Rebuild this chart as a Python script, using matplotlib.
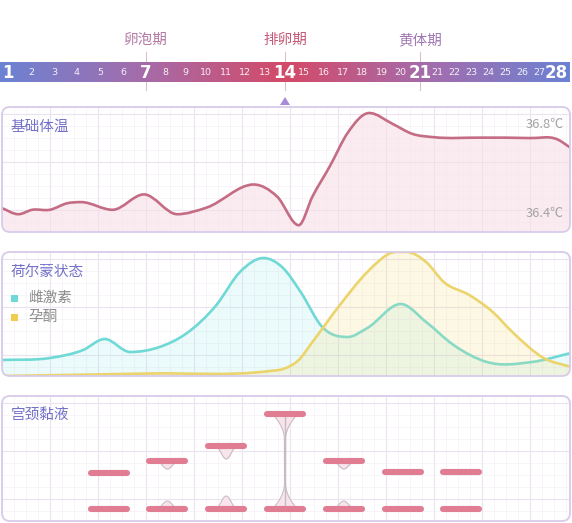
import numpy as np
import matplotlib
matplotlib.use("Agg")
import matplotlib.pyplot as plt
from matplotlib.path import Path
from matplotlib.patches import PathPatch, FancyBboxPatch, Polygon, Rectangle
from matplotlib.collections import LineCollection
from matplotlib.colors import LinearSegmentedColormap

plt.rcParams['font.family'] = ['Noto Sans CJK SC', 'DejaVu Sans']

# ---------------- data ----------------
# day strip (the source repeats "21")
day_labels = [str(d) for d in range(1, 22)] + [str(d) for d in range(21, 29)]
bold_idx = [0, 6, 13, 20, 28]
phase_names = ['卵泡期', '排卵期', '黄体期']
phase_days = [7, 14, 21]

# basal body temperature (day, degC)
temp_day = [-0.5, 0.4, 1.1, 2.0, 2.9, 3.6, 5.2, 6.8, 8.5, 10.0, 12.4,
            13.6, 14.7, 15.4, 16.3, 17.2, 18.3, 19.5, 20.5, 21.6, 24.0, 26.5, 27.9, 28.6]
temp_val = [36.42, 36.39, 36.41, 36.41, 36.44, 36.445, 36.41, 36.48, 36.39, 36.42,
            36.525, 36.47, 36.34, 36.47, 36.61, 36.76, 36.85, 36.80, 36.755, 36.74,
            36.738, 36.736, 36.73, 36.69]
temp_ticks = [36.8, 36.4]

# hormone levels (relative)
estro_day = [-0.5, 2.0, 3.7, 4.8, 6.1, 7.6, 9.0, 10.5, 11.7, 12.9, 13.9, 14.8, 15.9,
             17.2, 18.2, 19.9, 21.2, 22.6, 24.3, 26.6, 28.6]
estro_val = [13.6, 15.2, 21.6, 30.4, 20.0, 24.0, 35.2, 57.6, 84.0, 95.2, 87.2, 68.0, 40.0,
             32.0, 39.2, 58.4, 44.0, 25.6, 12.0, 12.0, 19.2]
prog_day = [-0.5, 7.1, 13.2, 13.9, 14.7, 15.4, 16.8, 18.2, 19.4, 20.2, 21.2, 22.1,
            23.4, 24.6, 25.6, 27.2, 28.6]
prog_val = [0.8, 2.8, 4.8, 6.4, 13.6, 28.0, 57.6, 84.0, 99.2, 100.0, 92.0, 76.0,
            65.6, 52.0, 36.0, 15.2, 8.0]

# cervical mucus (stretch between the two bars, bead size, shape)
mucus_day = [5, 8, 11, 14, 17, 20, 23]
mucus_gap = [36, 48, 63, 95, 48, 37, 37]
mucus_bead = [0, 8, 13, 0, 8, 0, 0]
mucus_kind = ['none', 'drop', 'drop', 'thread', 'drop', 'none', 'none']

# ---------------- layout ----------------
W, H = 572, 523
X0, X1 = 2, 570
panels = [(107, 232), (252, 376), (396, 521)]
DAY14_X, PX_DAY = 285, 19.6
day_lim = ((0 - DAY14_X) / PX_DAY + 14, (W - DAY14_X) / PX_DAY + 14)

BORDER = '#d8cbea'
TITLE = '#7270c8'


def smooth(xs, ys):
    # cubic Hermite through the points, flat tangent at turning points
    x = np.asarray(xs, float)
    y = np.asarray(ys, float)
    h = np.diff(x)
    s = np.diff(y) / h
    m = np.empty_like(y)
    m[0], m[-1] = s[0], s[-1]
    m[1:-1] = (s[:-1] * h[1:] + s[1:] * h[:-1]) / (h[:-1] + h[1:])
    m[1:-1][s[:-1] * s[1:] < 0] = 0
    verts, codes = [(x[0], y[0])], [Path.MOVETO]
    for i in range(len(x) - 1):
        d = h[i] / 3
        verts += [(x[i] + d, y[i] + m[i] * d), (x[i + 1] - d, y[i + 1] - m[i + 1] * d),
                  (x[i + 1], y[i + 1])]
        codes += [Path.CURVE4] * 3
    return verts, codes


def draw_curve(ax, xs, ys, base, line_c, fill_c, alpha, clip):
    v, c = smooth(xs, ys)
    fill = PathPatch(Path(v + [(xs[-1], base), (xs[0], base), (xs[0], base)],
                          c + [Path.LINETO, Path.LINETO, Path.CLOSEPOLY]),
                     facecolor=fill_c, edgecolor='none', alpha=alpha)
    line = PathPatch(Path(v, c), facecolor='none', edgecolor=line_c, lw=1.9)
    for a in (fill, line):
        ax.add_patch(a)
        a.set_clip_path(clip)


fig = plt.figure(figsize=(W / 100, H / 100), dpi=100)

# background: white panels + faint grid
bg = fig.add_axes([0, 0, 1, 1])
bg.set_xlim(0, W)
bg.set_ylim(H, 0)
bg.axis('off')
boxes = []
for top, bot in panels:
    box = FancyBboxPatch((X0, top), X1 - X0, bot - top,
                         boxstyle='round,pad=0,rounding_size=8',
                         facecolor='white', edgecolor='none')
    bg.add_patch(box)
    boxes.append(box)
    for k, gx in enumerate(np.arange(X0, X1, 12)):
        major = k % 4 == 0
        lc = LineCollection([[(gx, top), (gx, bot)]],
                            colors='#ebe3ee' if major else '#f5f0f5', lw=0.8 if major else 0.5)
        bg.add_collection(lc)
        lc.set_clip_path(box)
    for k, gy in enumerate(np.arange(top + 7, bot, 12)):
        major = k % 4 == 0
        lc = LineCollection([[(X0, gy), (X1, gy)]],
                            colors='#ebe3ee' if major else '#f5f0f5', lw=0.8 if major else 0.5)
        bg.add_collection(lc)
        lc.set_clip_path(box)


def data_axes(top, bot):
    ax = fig.add_axes([0, 1 - bot / H, 1, (bot - top) / H])
    ax.set_xlim(*day_lim)
    ax.axis('off')
    ax.patch.set_alpha(0)
    return ax


# temperature
ax1 = data_axes(*panels[0])
ax1.set_ylim(36.8 - (232 - 124) * 0.4 / 88, 36.8 + (124 - 107) * 0.4 / 88)
draw_curve(ax1, temp_day, temp_val, 36.0, '#c46c84', '#f8dfe7', 0.6, boxes[0])

# hormones
ax2 = data_axes(*panels[1])
ax2.set_ylim(0.8, 100)
draw_curve(ax2, estro_day, estro_val, -5, '#6fd9d6', '#8ee6e6', 0.17, boxes[1])
draw_curve(ax2, prog_day, prog_val, -5, '#ecd46c', '#f6dc7c', 0.2, boxes[1])

# cervical mucus
ax3 = data_axes(*panels[2])
ax3.set_ylim(-12, 113)
bar_half = 18 / PX_DAY
t = np.linspace(-1, 1, 60)
for d, gap, bead, kind in zip(mucus_day, mucus_gap, mucus_bead, mucus_kind):
    if kind == 'drop':
        shape = ((1 + np.cos(np.pi * t)) / 2) ** 1.3
        xs = d + t * 12 / PX_DAY
        ax3.fill_between(xs, gap, gap - bead * shape, color='#f8e4ea', lw=0)
        ax3.plot(xs, gap - bead * shape, color='#c9bcc4', lw=0.8)
        ax3.fill_between(xs, 0, bead * shape, color='#f8e4ea', lw=0)
        ax3.plot(xs, bead * shape, color='#c9bcc4', lw=0.8)
    elif kind == 'thread':
        ys = np.linspace(0, gap, 300)
        dist = np.minimum(ys, gap - ys)
        half = (12 * np.clip(1 - dist / 26, 0, 1) ** 2 + 0.5) / PX_DAY
        ax3.fill_betweenx(ys, d - half, d + half, color='#f8e4ea', lw=0)
        ax3.plot(d - half, ys, color='#c9bcc4', lw=0.8)
        ax3.plot(d + half, ys, color='#c9bcc4', lw=0.8)
        ax3.plot([d, d], [0, gap], color='#c4bcc4', lw=1.0)
    for y in (0, gap):
        ax3.plot([d - bar_half, d + bar_half], [y, y], color='#e07d93', lw=4.4,
                 solid_capstyle='round')

# foreground: strip, borders, text
fg = fig.add_axes([0, 0, 1, 1])
fg.axis('off')
fg.patch.set_alpha(0)

cmap = LinearSegmentedColormap.from_list('cycle', [
    (0.0, '#6b82d3'), (0.25, '#a56caa'), (0.5, '#d44a68'), (0.75, '#a46cac'), (1.0, '#6c82d3')])
label_x = np.concatenate([np.linspace(8, 146, 7), np.linspace(146, 285, 8)[1:],
                          np.linspace(285, 420, 8)[1:], np.linspace(420, 556, 9)[1:]])
phase_x = [label_x[i] for i in bold_idx[1:4]]
for px in phase_x:
    fg.plot([px, px], [52, 90], color='#dcc0d0', lw=0.8, zorder=1)
fg.imshow(np.linspace(0, 1, 256)[None, :], extent=(0, 570, 82, 62), aspect='auto',
          cmap=cmap, zorder=2)
for i, (lab, lx) in enumerate(zip(day_labels, label_x)):
    if i in bold_idx:
        fg.text(lx, 72.5, lab, color='white', fontsize=12, fontweight='bold',
                ha='center', va='center', family='DejaVu Sans', zorder=3)
    else:
        fg.text(lx, 72.5, lab, color='white', fontsize=6.8, alpha=0.9,
                ha='center', va='center', family='DejaVu Sans', zorder=3)
for name, px, col in zip(phase_names, phase_x, ['#b47aa6', '#c45a78', '#a178b4']):
    fg.text(px, 40, name, color=col, fontsize=10.5, fontweight='medium',
            ha='center', va='center')
fg.add_patch(Polygon([(280, 105), (290, 105), (285, 97)], closed=True,
                     facecolor='#a98ad8', edgecolor='none'))

for top, bot in panels:
    fg.add_patch(FancyBboxPatch((X0, top), X1 - X0, bot - top,
                                boxstyle='round,pad=0,rounding_size=8',
                                facecolor='none', edgecolor=BORDER, lw=1.3))

for (top, bot), title in zip(panels, ['基础体温', '荷尔蒙状态', '宫颈黏液']):
    fg.text(11, top + 20, title, color=TITLE, fontsize=10.5, fontweight='medium',
            ha='left', va='center')

for tv, ty in zip(temp_ticks, [124, 213]):
    fg.text(564, ty, f'{tv}℃', color='#a3a3a3', fontsize=9.3, ha='right', va='center')

for name, col, ly in zip(['雌激素', '孕酮'], ['#6fd9d6', '#f0cc50'], [298, 317]):
    fg.add_patch(Rectangle((11, ly - 3.5), 7, 7, facecolor=col, edgecolor='none'))
    fg.text(28, ly, name, color='#8c8c8c', fontsize=10.5, ha='left', va='center')

fg.set_xlim(0, W)
fg.set_ylim(H, 0)

fig.savefig('out.png', dpi=100, facecolor='white')
